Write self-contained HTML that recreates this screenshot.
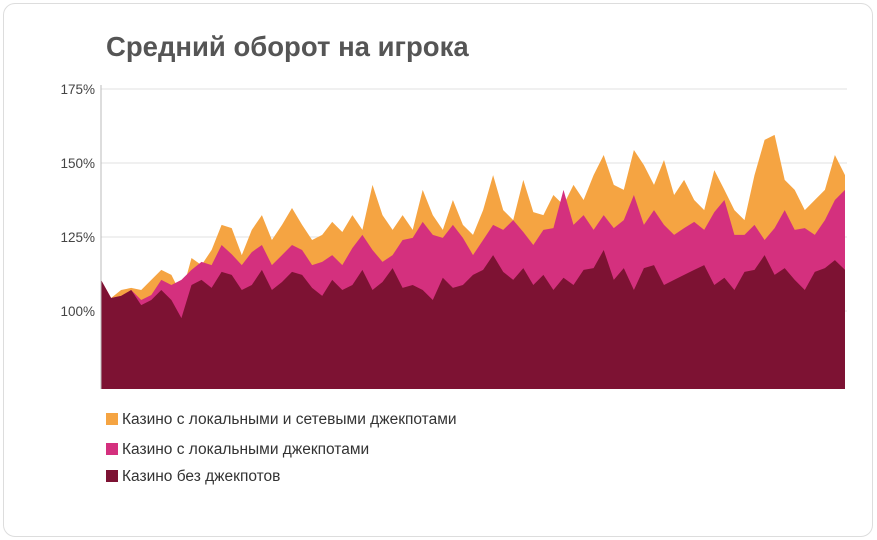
<!DOCTYPE html>
<html><head><meta charset="utf-8"><style>
body{margin:0;width:877px;height:540px;background:#fff;font-family:"Liberation Sans",sans-serif;overflow:hidden}
.card{position:absolute;left:3px;top:3px;width:868px;height:532px;border:1px solid #ddd;border-radius:12px}
.title{position:absolute;left:106px;top:31px;font-size:27.5px;font-weight:bold;color:#555}
</style></head><body>
<div class="card"></div>
<div class="title">Средний оборот на игрока</div>
<svg id="c" width="877" height="540" style="position:absolute;left:0;top:0"></svg>
<script>
const yTicks=[100,125,150,175];
const yTickLabels=["100%","125%","150%","175%"];
const baseSeries=[110.5,104.4,105.1,107.1,102.0,103.7,107.1,103.7,97.6,108.8,110.5,107.8,113.2,112.2,107.1,108.8,113.9,107.1,109.8,113.2,112.2,107.8,105.1,110.5,107.1,108.8,113.9,107.1,109.8,114.5,107.8,108.8,107.1,103.7,111.2,107.8,108.8,112.2,113.9,118.9,113.2,110.5,114.5,108.8,112.2,107.1,111.2,108.8,113.9,114.5,120.6,110.5,114.5,107.1,114.5,115.5,108.8,110.5,112.2,113.9,115.5,108.8,111.2,107.1,113.2,113.9,118.9,112.2,114.5,110.5,107.1,113.2,114.5,117.2,113.9];
const localTotal=[110.5,104.4,105.1,107.1,103.7,105.4,110.5,108.8,110.5,113.9,116.6,115.5,122.3,119.2,115.5,119.9,122.3,115.5,118.9,122.3,120.6,115.5,116.6,118.9,115.5,121.3,125.7,120.6,116.6,118.9,124.0,124.7,130.1,125.7,124.7,129.1,124.7,118.9,124.0,129.1,127.4,130.7,126.7,122.3,127.4,128.0,140.9,129.1,132.4,127.4,132.4,128.0,130.7,139.2,129.1,134.1,129.1,125.7,128.0,130.1,127.4,133.4,137.5,125.7,125.7,129.1,124.0,128.0,134.1,127.4,128.0,125.7,130.7,137.5,140.9];
const allTotal=[110.5,104.4,107.1,107.8,107.1,110.5,113.9,112.2,105.4,117.9,115.5,120.6,129.1,128.0,118.9,127.4,132.4,124.0,129.1,134.8,129.1,124.0,125.7,130.1,126.7,132.4,127.4,142.6,132.4,127.4,132.4,127.4,140.9,132.4,127.4,137.5,129.1,125.7,134.1,145.9,134.1,130.7,144.3,133.4,132.4,139.2,135.8,142.6,137.5,145.9,152.7,142.6,140.9,154.4,149.3,142.6,151.0,139.2,144.3,137.5,134.1,147.6,140.9,134.1,130.7,145.9,157.8,159.5,144.3,140.9,134.1,137.5,140.9,152.7,145.9];
const svg=document.getElementById('c');const NS='http://www.w3.org/2000/svg';
const X0=101,X1=845,BOT=389;
function xs(i){return X0+i*(X1-X0)/(baseSeries.length-1);}
function ys(v){return 311-(v-100)*74/25;}
function mk(t,a){const e=document.createElementNS(NS,t);for(const k in a)e.setAttribute(k,a[k]);svg.appendChild(e);return e;}
yTicks.forEach((t,i)=>{
 const g=mk('line',{x1:X0,x2:847,y1:ys(t),y2:ys(t),stroke:'#e2e2e2','stroke-width':1});
 
 
 const l=mk('text',{x:95,y:ys(t)+5,'text-anchor':'end','font-size':13.5,fill:'#444','font-family':'Liberation Sans, sans-serif'});
 l.textContent=yTickLabels[i];
 
 
});
function area(arr,col,name){
 let d='M'+X0+','+BOT;arr.forEach((v,i)=>{d+=' L'+xs(i).toFixed(1)+','+ys(v).toFixed(1);});
 d+=' L'+X1+','+BOT+' Z';
 const p=mk('path',{d:d,fill:col});
 
 
}
area(allTotal,'#f5a442','area-local-and-network-jackpots');
area(localTotal,'#d4307e','area-local-jackpots');
area(baseSeries,'#7d1233','area-no-jackpots');
const ax=mk('line',{x1:X0,x2:X0,y1:85,y2:BOT,stroke:'#bbb','stroke-width':1});


const legend=[['#f5a442','Казино с локальными и сетевыми джекпотами',419],['#d4307e','Казино с локальными джекпотами',449],['#7d1233','Казино без джекпотов',476]];
legend.forEach(([c,t,y])=>{
 const r=mk('rect',{x:106,y:y-6,width:12,height:12,fill:c});
 
 
 const tx=mk('text',{x:122,y:y+5,'font-size':15.5,fill:'#333','font-family':'Liberation Sans, sans-serif'});
 tx.textContent=t;
 
 
});
</script>
</body></html>
